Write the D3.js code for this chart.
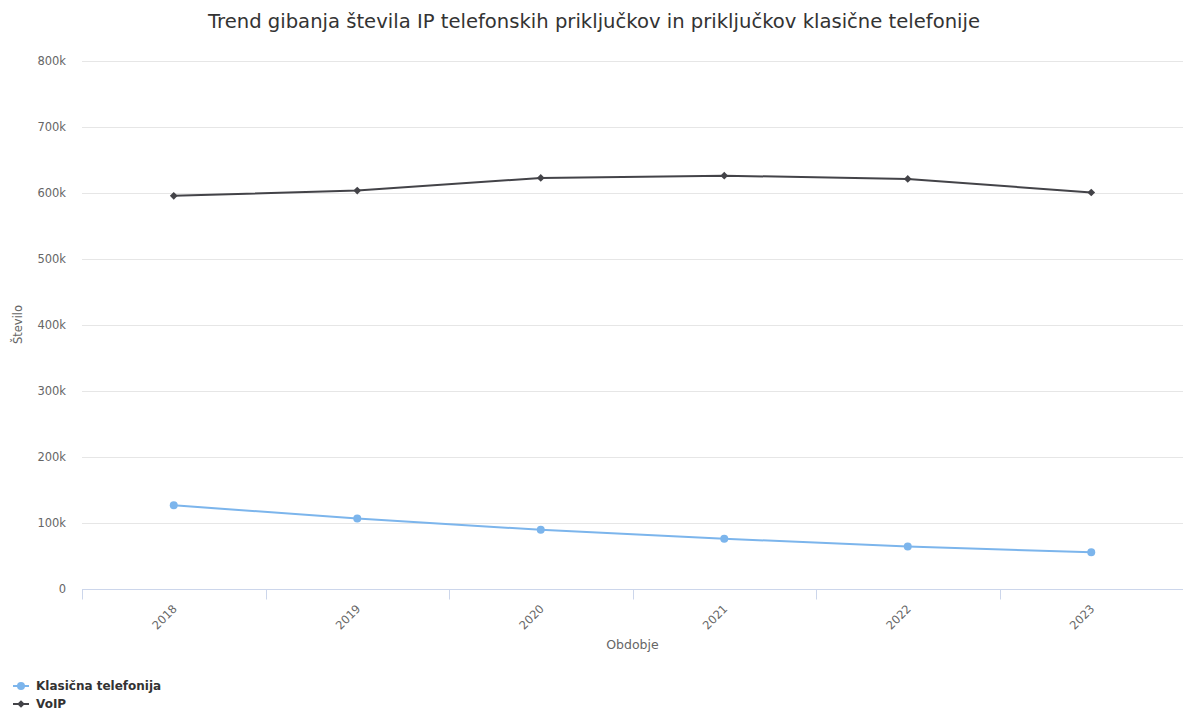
<!DOCTYPE html>
<html>
<head>
<meta charset="utf-8">
<script src="https://cdn.jsdelivr.net/npm/d3@7"></script>
<style>
  html, body { margin: 0; padding: 0; background: #fff; }
  svg { display: block; font-family: "DejaVu Sans", "Lucida Grande", Verdana, sans-serif; }
</style>
</head>
<body>
<svg id="chart" width="1183" height="711"></svg>
<script>
// Periods on the category axis
const years = ["2018", "2019", "2020", "2021", "2022", "2023"];
// Number of connections per period
const klasicna = [126000, 106000, 89000, 75500, 63500, 55000];
const voip = [595000, 603000, 622000, 625500, 620500, 600000];
// Value axis ticks
const yTicks = [0, 100000, 200000, 300000, 400000, 500000, 600000, 700000, 800000];

const series = [
  { name: "Klasična telefonija", values: klasicna, color: "#7cb5ec", symbol: d3.symbolCircle, size: 50, rot: 0 },
  { name: "VoIP", values: voip, color: "#434348", symbol: d3.symbolSquare, size: 30, rot: 45 }
];

const svg = d3.select("#chart");
const margin = { left: 82, right: 0 };
const W = 1183;

const x = d3.scaleBand().domain(years).range([margin.left, W - margin.right]);
const y = d3.scaleLinear().domain([0, 800000]).range([588.5, 60.5]);

// Title
svg.append("text")
  .attr("x", 594).attr("y", 28)
  .attr("text-anchor", "middle")
  .attr("font-size", 19.6).attr("fill", "#333333")
  .text("Trend gibanja števila IP telefonskih priključkov in priključkov klasične telefonije");

// Horizontal grid lines
svg.append("g").selectAll("line").data(yTicks.slice(1)).join("line")
  .attr("x1", margin.left).attr("x2", W)
  .attr("y1", d => Math.round(y(d)) + 0.5).attr("y2", d => Math.round(y(d)) + 0.5)
  .attr("stroke", "#e6e6e6").attr("stroke-width", 1);

// Y axis labels
const fmt = d => d === 0 ? "0" : (d / 1000) + "k";
const yAxis = d3.axisLeft(y).tickValues(yTicks).tickFormat(fmt).tickSize(0).tickPadding(0);
const yg = svg.append("g").attr("transform", "translate(66,0)").call(yAxis);
yg.select(".domain").remove();
yg.selectAll("text").attr("font-size", 11.5).attr("fill", "#666666")
  .attr("font-family", "DejaVu Sans, sans-serif").attr("dy", "0.32em");

// Y axis title
svg.append("text")
  .attr("transform", "translate(22," + ((y(0) + y(800000)) / 2) + ") rotate(-90)")
  .attr("text-anchor", "middle")
  .attr("font-size", 11.5).attr("fill", "#666666")
  .text("Število");

// X axis with ticks at category boundaries
const xg = svg.append("g").attr("transform", "translate(0," + (Math.round(y(0)) + 0.5) + ")");
xg.append("line").attr("x1", margin.left).attr("x2", W)
  .attr("stroke", "#ccd6eb").attr("stroke-width", 1);
const bounds = years.map(d => x(d));
xg.selectAll("line.tick").data(bounds).join("line").attr("class", "tick")
  .attr("x1", d => Math.round(d) + 0.5).attr("x2", d => Math.round(d) + 0.5)
  .attr("y1", 0).attr("y2", 10)
  .attr("stroke", "#ccd6eb").attr("stroke-width", 1);
xg.selectAll("text").data(years).join("text")
  .attr("transform", d => "translate(" + (x(d) + x.bandwidth() / 2 + 4) + ",20) rotate(-45)")
  .attr("text-anchor", "end")
  .attr("font-size", 11.5).attr("fill", "#666666")
  .text(d => d);

// X axis title
svg.append("text")
  .attr("x", (margin.left + W) / 2).attr("y", 649)
  .attr("text-anchor", "middle")
  .attr("font-size", 12.5).attr("fill", "#666666")
  .text("Obdobje");

// Lines and markers
const cx = d => x(d) + x.bandwidth() / 2;
const line = d3.line().x((v, i) => cx(years[i])).y(v => y(v));
series.forEach(s => {
  svg.append("path").datum(s.values)
    .attr("d", line).attr("fill", "none")
    .attr("stroke", s.color).attr("stroke-width", 2)
    .attr("stroke-linejoin", "round").attr("stroke-linecap", "round");
  svg.append("g").selectAll("path").data(s.values).join("path")
    .attr("d", d3.symbol().type(s.symbol).size(s.size))
    .attr("transform", (v, i) => "translate(" + cx(years[i]) + "," + y(v) + ") rotate(" + s.rot + ")")
    .attr("fill", s.color);
});

// Legend
const lg = svg.append("g");
series.forEach((s, i) => {
  const ly = 686 + i * 18;
  const g = lg.append("g").attr("transform", "translate(0," + ly + ")");
  g.append("line").attr("x1", 13).attr("x2", 29).attr("y1", 0).attr("y2", 0)
    .attr("stroke", s.color).attr("stroke-width", 2);
  g.append("path").attr("d", d3.symbol().type(s.symbol).size(s.size))
    .attr("transform", "translate(21,0) rotate(" + s.rot + ")").attr("fill", s.color);
  g.append("text").attr("x", 36).attr("y", 0).attr("dy", "0.35em")
    .attr("font-size", 12).attr("font-weight", "bold").attr("fill", "#333333")
    .text(s.name);
});
</script>
</body>
</html>
